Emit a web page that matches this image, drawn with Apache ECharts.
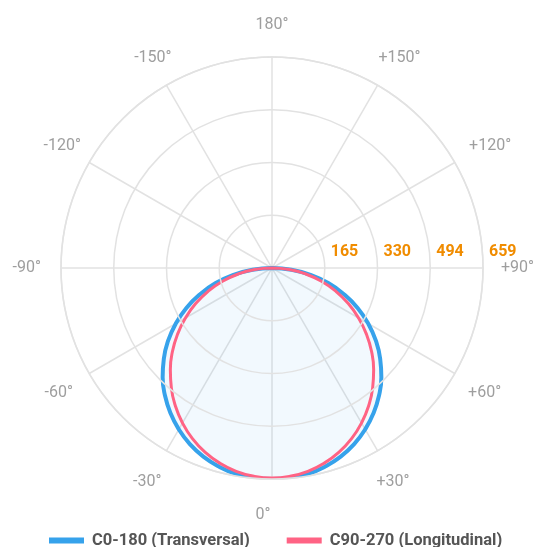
<!DOCTYPE html>
<html>
<head>
<meta charset="utf-8">
<script src="https://cdn.jsdelivr.net/npm/echarts@6/dist/echarts.min.js"></script>
<style>
html,body{margin:0;padding:0;background:#fff;}
#chart{width:536px;height:547px;}
</style>
</head>
<body>
<div id="chart"></div>
<script>
// Gamma angles (degrees, 0 = nadir, + toward right)
const gammaAngles = [-90,-85,-80,-75,-70,-65,-60,-55,-50,-45,-40,-35,-30,-25,-20,-15,-10,-5,0,5,10,15,20,25,30,35,40,45,50,55,60,65,70,75,80,85,90];
// Luminous intensity values (cd)
const c0_180 = [0,61,122,182,239,295,347,396,441,483,520,553,582,607,627,642,653,658,659,658,653,642,627,607,582,553,520,483,441,396,347,295,239,182,122,61,0];
const c90_270 = [0,54,107,160,212,263,312,360,406,449,489,526,559,588,612,631,645,653,656,653,645,631,612,588,559,526,489,449,406,360,312,263,212,160,107,54,0];
const seriesNames = ['C0-180 (Transversal)', 'C90-270 (Longitudinal)'];
const radiusMax = 659;
const radiusTicks = 4;

const toPolar = (vals) => vals.map((r, i) => [r, gammaAngles[i] + 360]);

// per-label placement tweaks (padding: top, right, bottom, left)
const labelPad = {
  '180': [0, 0, 34, 0], '0': [38, 18, 0, 0],
  '90': [0, 0, 0, 28], '-90': [0, 30, 0, 0],
  '150': [0, 0, 28, 6], '-150': [0, 0, 28, 0],
  '120': [0, 0, 14, 23], '-120': [0, 17, 14, 0],
  '60': [16, 0, 0, 22], '-60': [16, 25, 0, 0],
  '30': [32, 0, 0, 4], '-30': [32, 10, 0, 0]
};
const keyOf = (a) => (a < 0 ? 'm' : 'p') + Math.abs(a);
const rich = {};
Object.keys(labelPad).forEach(function (k) {
  rich[keyOf(Number(k))] = { padding: labelPad[k], color: '#9e9e9e', fontSize: 16, fontFamily: 'Roboto' };
});

const chart = echarts.init(document.getElementById('chart'), null, {renderer: 'canvas'});
const gridColor = '#e2e2e2';
chart.setOption({
  animation: false,
  backgroundColor: '#fff',
  polar: { center: [272, 268], radius: 211 },
  angleAxis: {
    type: 'value',
    min: 90, max: 450, interval: 30,
    startAngle: 0, clockwise: false,
    axisLine: { show: true, lineStyle: { color: gridColor, width: 1.5 } },
    axisTick: { show: false },
    splitLine: { show: true, lineStyle: { color: gridColor, width: 1.5 } },
    axisLabel: {
      margin: -10,
      color: '#9e9e9e',
      fontSize: 16,
      fontFamily: 'Roboto',
      rich: rich,
      formatter: function (v) {
        if (v === 450) return '';
        let a = ((v % 360) + 360) % 360;
        if (a > 180) a -= 360;
        let txt;
        if (a === 0) txt = '0°';
        else if (a === 180) txt = '180°';
        else txt = (a > 0 ? '+' : '') + a + '°';
        return '{' + keyOf(a) + '|' + txt + '}';
      }
    }
  },
  radiusAxis: {
    type: 'value',
    min: 0, max: radiusMax, interval: radiusMax / radiusTicks,
    axisLine: { show: false },
    axisTick: { show: false },
    splitLine: { show: true, lineStyle: { color: gridColor, width: 1.5 } },
    axisLabel: {
      margin: 8,
      align: 'left',
      padding: [0, 0, 0, 6],
      color: '#f08c00',
      fontSize: 16,
      fontWeight: 'bold',
      fontFamily: 'Roboto',
      formatter: function (v) { return v === 0 ? '' : String(Math.round(v)); }
    },
    z: 10
  },
  legend: {
    top: 527,
    left: 44,
    itemWidth: 35,
    itemHeight: 6,
    itemGap: 37,
    icon: 'rect',
    textStyle: { color: '#555', fontSize: 16.5, fontWeight: 'bold', fontFamily: 'Roboto', padding: [0, 0, 0, 3] },
    data: seriesNames
  },
  series: [
    {
      name: seriesNames[0],
      type: 'line',
      coordinateSystem: 'polar',
      data: toPolar(c0_180),
      showSymbol: false,
      smooth: true,
      lineStyle: { color: '#36a2eb', width: 4 },
      itemStyle: { color: '#36a2eb' },
      areaStyle: { color: 'rgba(54,162,235,0.09)' },
      z: 2
    },
    {
      name: seriesNames[1],
      type: 'line',
      coordinateSystem: 'polar',
      data: toPolar(c90_270),
      showSymbol: false,
      smooth: true,
      lineStyle: { color: '#ff6384', width: 3 },
      itemStyle: { color: '#ff6384' },
      z: 3
    }
  ]
});
</script>
</body>
</html>
